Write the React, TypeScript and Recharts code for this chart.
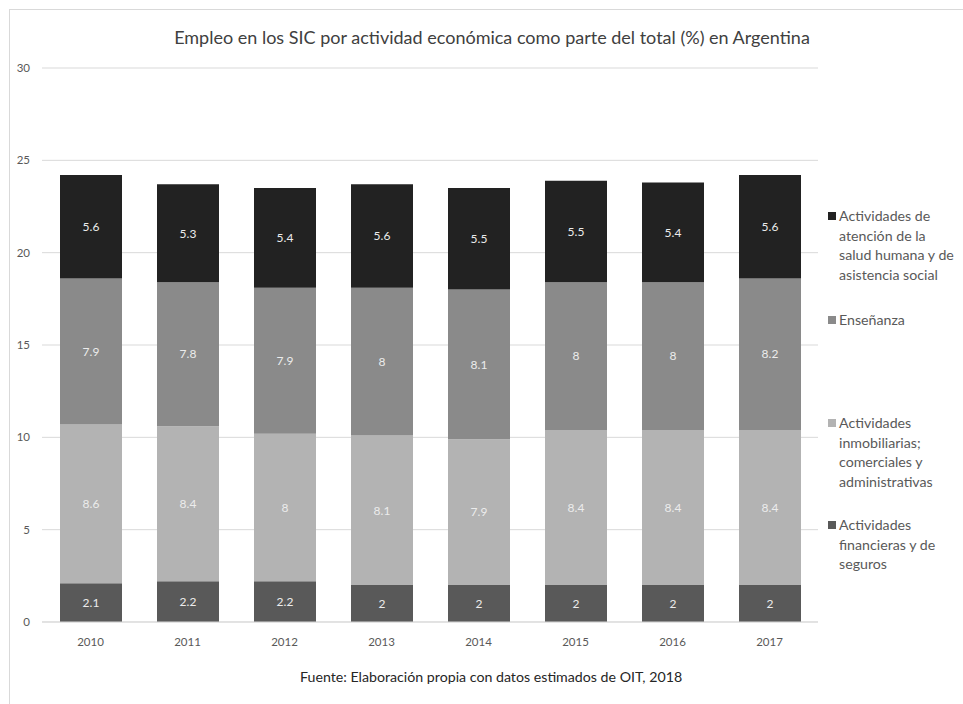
import React from "react";
import { BarChart, Bar, XAxis, YAxis, CartesianGrid, LabelList } from "recharts";

const years = ["2010", "2011", "2012", "2013", "2014", "2015", "2016", "2017"];
const financieras = [2.1, 2.2, 2.2, 2, 2, 2, 2, 2];
const inmobiliarias = [8.6, 8.4, 8, 8.1, 7.9, 8.4, 8.4, 8.4];
const ensenanza = [7.9, 7.8, 7.9, 8, 8.1, 8, 8, 8.2];
const salud = [5.6, 5.3, 5.4, 5.6, 5.5, 5.5, 5.4, 5.6];
const yTicks = [0, 5, 10, 15, 20, 25, 30];

const series = [
  { key: "financieras", color: "#595959", lines: ["Actividades", "financieras y de", "seguros"] },
  { key: "inmobiliarias", color: "#b3b3b3", lines: ["Actividades", "inmobiliarias;", "comerciales y", "administrativas"] },
  { key: "ensenanza", color: "#8a8a8a", lines: ["Enseñanza"] },
  { key: "salud", color: "#222222", lines: ["Actividades de", "atención de la", "salud humana y de", "asistencia social"] },
];

// legend order is top to bottom, reverse of stacking
const legendTops = [206, 310, 413, 515];

const data = years.map((y, i) => ({
  year: y,
  financieras: financieras[i],
  inmobiliarias: inmobiliarias[i],
  ensenanza: ensenanza[i],
  salud: salud[i],
}));

const font = "Lato, 'Noto Sans', sans-serif";

export default function App() {
  const legendItems = [...series].reverse();
  return (
    <div style={{ position: "absolute", left: 0, top: 0, width: 963, height: 704, background: "#fff", fontFamily: font, overflow: "hidden" }}>
      <div style={{ position: "absolute", left: 9, top: 9, width: 1000, height: 1000, borderTop: "1px solid #d9d9d9", borderLeft: "1px solid #d9d9d9" }} />
      <div style={{ position: "absolute", left: 0, width: 984, top: 26, textAlign: "center", fontSize: 18, color: "#404040", whiteSpace: "nowrap" }}>
        Empleo en los SIC por actividad económica como parte del total (%) en Argentina
      </div>
      <div style={{ position: "absolute", left: 0, top: 0 }}>
        <BarChart width={963} height={704} data={data} margin={{ top: 68, right: 145, bottom: 52, left: 12 }} barSize={62}>
          <CartesianGrid vertical={false} stroke="#d9d9d9" />
          <XAxis
            dataKey="year"
            height={30}
            tickLine={false}
            axisLine={{ stroke: "#d9d9d9" }}
            tick={{ fill: "#595959", fontSize: 11.5, fontFamily: font }}
            tickMargin={10}
          />
          <YAxis
            width={30}
            domain={[0, 30]}
            ticks={yTicks}
            tickLine={false}
            axisLine={false}
            tickSize={0}
            tickMargin={12}
            tick={{ fill: "#595959", fontSize: 11.5, fontFamily: font }}
          />
          {series.map((s) => (
            <Bar key={s.key} dataKey={s.key} stackId="a" fill={s.color} isAnimationActive={false}>
              <LabelList dataKey={s.key} position="center" fill="#ececec" fontSize={12} fontFamily={font} />
            </Bar>
          ))}
        </BarChart>
      </div>
      {legendItems.map((s, i) => (
        <div key={s.key} style={{ position: "absolute", left: 828, top: legendTops[i], width: 135, fontSize: 14.2, lineHeight: "19.5px", color: "#595959" }}>
          <span style={{ position: "absolute", left: 0, top: 6, width: 8, height: 8, background: s.color }} />
          <div style={{ marginLeft: 11 }}>
            {s.lines.map((l) => (
              <div key={l} style={{ whiteSpace: "nowrap" }}>{l}</div>
            ))}
          </div>
        </div>
      ))}
      <div style={{ position: "absolute", left: 300, top: 668, fontSize: 14.2, color: "#262626", whiteSpace: "nowrap" }}>
        Fuente:  Elaboración propia con datos estimados de OIT, 2018
      </div>
    </div>
  );
}
